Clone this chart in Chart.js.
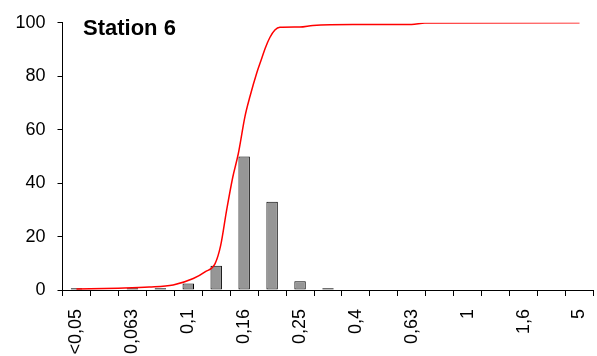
<!DOCTYPE html>
<html>
<head>
<meta charset="utf-8">
<script src="https://cdn.jsdelivr.net/npm/chart.js@4/dist/chart.umd.min.js"></script>
<style>
  html, body { margin: 0; padding: 0; background: #fff; }
  #chart { display: block; }
</style>
</head>
<body>
<canvas id="chart" width="597" height="356"></canvas>
<script>
(function () {
    "use strict";

    // grain size classes (mm), every second one is labelled
    var sizeClasses = ['<0,05', '0,05', '0,063', '0,08', '0,1', '0,125', '0,16', '0,2', '0,25', '0,315',
        '0,4', '0,5', '0,63', '0,8', '1', '1,25', '1,6', '2', '5'];
    // fraction per class (%)
    var fractions = [0.7, 0, 0.7, 0.7, 2.4, 9.1, 50, 33, 3.3, 0.7, 0, 0, 0, 0, 0, 0, 0, 0, 0];
    // cumulative curve: position in class units, value (%)
    var cumPos = [0, 1.5, 2.6, 3.46, 4.18, 4.6, 4.96, 5.16, 5.37, 5.59, 5.79, 6.03, 6.21, 6.45, 6.63,
        6.75, 6.92, 7.1, 7.28, 7.99, 8.46, 9.89, 11.99, 12.47, 18];
    var cumValues = [0.4, 0.7, 1.1, 1.9, 4.3, 6.8, 9.9, 16.7, 29.7, 42.1, 51, 65, 72.5, 81.2, 86.7,
        90.4, 94.5, 97.3, 98.3, 98.4, 99.0, 99.4, 99.4, 99.9, 100];
    var yTicks = [0, 20, 40, 60, 80, 100];
    var title = 'Station 6';

    var font = 'Liberation Sans, Arial, sans-serif';

    // Title inside the plot area
    var titlePlugin = {
        id: 'stationTitle',
        afterDraw: function (chart) {
            var ctx = chart.ctx, area = chart.chartArea;
            ctx.save();
            ctx.font = 'bold 22px ' + font;
            ctx.fillStyle = '#000';
            ctx.textBaseline = 'alphabetic';
            ctx.fillText(title, area.left + 20.5, area.top + 12.5);
            ctx.restore();
        }
    };

    var curve = cumPos.map(function (p, i) { return { x: p, y: cumValues[i] }; });

    new Chart(document.getElementById('chart'), {
        type: 'bar',
        data: {
            labels: sizeClasses,
            datasets: [{
                type: 'line',
                data: curve,
                xAxisID: 'xl',
                yAxisID: 'y',
                borderColor: '#ff0000',
                borderWidth: 1.5,
                pointRadius: 0,
                fill: false,
                cubicInterpolationMode: 'monotone',
                order: 0
            }, {
                data: fractions,
                xAxisID: 'x',
                yAxisID: 'y',
                backgroundColor: '#969696',
                borderColor: '#000',
                borderWidth: 1,
                borderSkipped: false,
                grouped: false,
                barPercentage: 0.41,
                categoryPercentage: 1,
                order: 1
            }]
        },
        options: {
            responsive: false,
            animation: false,
            layout: { padding: { top: 21, right: 3.5, left: 0, bottom: 0 } },
            plugins: { legend: { display: false }, tooltip: { enabled: false } },
            scales: {
                x: {
                    type: 'category',
                    offset: true,
                    afterFit: function (scale) {
                        scale.height = 66;
                        scale.paddingLeft = 0;
                        scale.paddingRight = 0;
                    },
                    border: { display: true, color: '#000', width: 1 },
                    grid: { offset: true, drawOnChartArea: false, drawTicks: true, tickLength: 6, color: '#000' },
                    ticks: {
                        autoSkip: false,
                        minRotation: 90,
                        maxRotation: 90,
                        padding: 13,
                        color: '#000',
                        font: { family: font, size: 18 },
                        callback: function (v, i) { return i % 2 === 0 ? sizeClasses[i] : ''; }
                    }
                },
                xl: {
                    type: 'linear',
                    display: false,
                    offset: false,
                    grid: { offset: false },
                    min: -0.5,
                    max: sizeClasses.length - 0.5
                },
                y: {
                    min: yTicks[0],
                    max: yTicks[yTicks.length - 1],
                    afterFit: function (scale) { scale.width = 62.5; },
                    afterBuildTicks: function (scale) {
                        scale.ticks = yTicks.map(function (v) { return { value: v }; });
                    },
                    border: { display: true, color: '#000', width: 1 },
                    grid: { drawOnChartArea: false, drawTicks: true, tickLength: 5, color: '#000' },
                    ticks: {
                        padding: 12,
                        color: '#000',
                        font: { family: font, size: 18 }
                    }
                }
            }
        },
        plugins: [titlePlugin]
    });
})();
</script>
</body>
</html>
